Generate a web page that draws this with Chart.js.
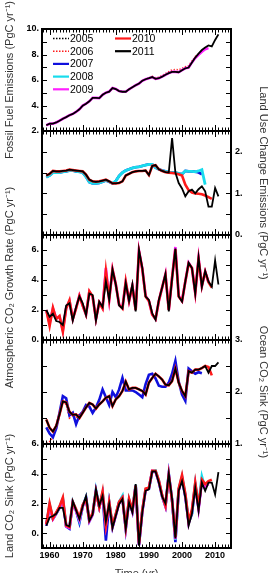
<!DOCTYPE html>
<html><head><meta charset="utf-8">
<script src="https://cdn.jsdelivr.net/npm/chart.js"></script>
<style>
html,body{margin:0;padding:0;background:#fff;}
#wrap{position:relative;width:273px;height:573px;overflow:hidden;background:#fff;}
#wrap canvas{position:absolute;left:0;top:0;}
</style></head><body>
<div id="wrap">
<canvas id="c1" width="273" height="573"></canvas>
<canvas id="c2" width="273" height="573"></canvas>
<canvas id="c3" width="273" height="573"></canvas>
<canvas id="c4" width="273" height="573"></canvas>
<canvas id="c5" width="273" height="573"></canvas>
</div>
<script>
// ---------- DATA ----------
const years = [1959,1960,1961,1962,1963,1964,1965,1966,1967,1968,1969,1970,1971,1972,1973,1974,1975,1976,1977,1978,1979,1980,1981,1982,1983,1984,1985,1986,1987,1988,1989,1990,1991,1992,1993,1994,1995,1996,1997,1998,1999,2000,2001,2002,2003,2004,2005,2006,2007,2008,2009,2010,2011];
const legendYears = ['2005','2006','2007','2008','2009','2010','2011'];
const xTickLabels = [1960,1970,1980,1990,2000,2010];

// Fossil fuel emissions (PgC/yr), each series starts in 1959
const fossil2011 = [2.45, 2.57,2.58,2.67,2.81,2.96,3.09,3.24,3.34,3.50,3.70, 3.99,4.14,4.33,4.60,4.60,4.58,4.84,5.00,5.09,5.37, 5.29,5.13,5.08,5.08,5.27,5.43,5.59,5.72,5.94,6.06, 6.14,6.23,6.09,6.14,6.26,6.41,6.54,6.64,6.64,6.61, 6.77,6.92,6.98,7.38,7.76,8.07,8.35,8.54,8.71,8.63, 9.14,9.58];
const fossil2009 = [2.45, 2.57,2.58,2.67,2.81,2.96,3.09,3.24,3.34,3.50,3.70, 3.99,4.14,4.33,4.60,4.60,4.58,4.84,5.00,5.09,5.37, 5.29,5.13,5.08,5.08,5.27,5.43,5.59,5.72,5.94,6.06, 6.14,6.23,6.09,6.14,6.26,6.41,6.54,6.64,6.64,6.61, 6.77,6.92,6.98,7.38,7.72,7.98,8.22,8.42,8.50];
const fossil2006 = [2.45, 2.57,2.58,2.67,2.81,2.96,3.09,3.24,3.34,3.50,3.70, 3.99,4.14,4.33,4.60,4.60,4.58,4.84,5.00,5.09,5.37, 5.29,5.13,5.08,5.08,5.27,5.43,5.59,5.72,5.94,6.06, 6.14,6.28,6.16,6.22,6.35,6.50,6.65,6.80,6.82,6.80, 6.90,7.04,7.12,7.48,7.84,8.05];

// Land use change emissions
const luc2011 = [1.43, 1.47,1.54,1.53,1.53,1.54,1.55,1.57,1.56,1.55,1.54, 1.53,1.45,1.33,1.29,1.28,1.29,1.31,1.33,1.29,1.24, 1.24,1.25,1.29,1.43,1.47,1.51,1.53,1.54,1.54,1.55, 1.44,1.66,1.68,1.58,1.54,1.51,1.50,2.33,1.50,1.25, 1.12,0.93,1.05,1.09,1.00,1.10,1.17,1.05,0.68,0.68, 1.13,0.93];
const luc2010 = [1.43, 1.47,1.54,1.53,1.53,1.54,1.55,1.57,1.56,1.55,1.54, 1.53,1.45,1.33,1.29,1.28,1.29,1.31,1.33,1.29,1.24, 1.24,1.25,1.29,1.43,1.47,1.51,1.53,1.54,1.54,1.55, 1.44,1.66,1.68,1.58,1.54,1.51,1.50,1.49,1.48,1.46, 1.43,1.21,1.08,1.02,1.00,0.99,0.98,0.95,0.91,0.87];
const luc2008 = [1.39, 1.43,1.50,1.50,1.50,1.52,1.53,1.55,1.55,1.53,1.52, 1.50,1.40,1.27,1.24,1.24,1.25,1.28,1.31,1.28,1.24, 1.30,1.42,1.50,1.55,1.58,1.61,1.63,1.64,1.66,1.68, 1.70,1.70,1.62,1.58,1.55,1.53,1.51,1.50,1.50,1.48, 1.46,1.54,1.53,1.53,1.52,1.54,1.57,1.21];
const luc2007 = [1.39, 1.43,1.50,1.50,1.50,1.52,1.53,1.55,1.55,1.53,1.52, 1.50,1.40,1.27,1.24,1.24,1.25,1.28,1.31,1.28,1.24, 1.30,1.42,1.50,1.55,1.58,1.61,1.63,1.64,1.66,1.68, 1.70,1.70,1.62,1.58,1.55,1.53,1.51,1.50,1.50,1.48, 1.46,1.54,1.53,1.53,1.52,1.50,1.46];

// Atmospheric CO2 growth rate
const atm2011 = [2.00, 1.55,1.75,1.26,1.20,1.00,2.30,2.45,1.30,2.20,2.90, 2.45,1.66,3.10,3.00,1.30,2.55,2.20,3.90,2.70,4.70, 3.70,2.30,2.10,3.80,2.60,3.70,1.90,6.00,4.80,2.90, 2.67,1.78,1.35,2.67,3.50,4.40,1.90,4.10,6.10,2.90, 2.56,3.90,5.15,4.80,3.10,5.50,3.55,4.60,3.90,3.55, 5.30,3.70];
const atm2010 = [2.00, 0.94,2.16,1.40,1.60,0.55,2.10,2.65,1.40,2.10,2.95, 2.30,1.70,3.25,2.90,1.40,2.50,2.10,4.60,2.70,4.70, 3.70,2.35,2.10,3.90,2.60,3.60,2.00,5.90,4.75,2.90, 2.60,1.70,1.40,2.60,3.50,4.35,2.00,4.15,6.05,2.90, 2.60,3.90,5.10,4.80,3.15,5.40,3.60,4.55,3.85,3.50];
const atm2009 = [2.00, 1.10,2.10,1.45,1.55,0.65,2.15,2.60,1.40,2.15,2.95, 2.30,1.70,3.20,2.90,1.40,2.50,2.15,4.80,2.70,4.70, 3.70,2.35,2.15,3.85,2.60,3.60,2.00,5.95,4.75,2.95, 2.60,1.70,1.40,2.60,3.50,4.40,2.00,4.15,6.20,2.95, 2.60,3.90,5.15,4.80,3.15,5.45,3.60,4.55,3.85];

// Ocean CO2 sink
const ocean2011 = [1.47, 1.31,1.24,1.35,1.57,1.82,1.80,1.62,1.56,1.57,1.50, 1.60,1.70,1.79,1.76,1.68,1.76,1.82,1.89,1.92,1.73, 1.86,1.92,2.02,2.20,2.05,2.08,2.08,2.05,2.02,1.95, 2.18,2.27,2.35,2.30,2.24,2.14,2.13,2.21,2.45,2.18, 2.02,1.92,2.40,2.37,2.43,2.43,2.46,2.50,2.37,2.50, 2.50,2.57];
const ocean2010 = [1.47, 1.31,1.24,1.35,1.57,1.82,1.80,1.62,1.56,1.57,1.50, 1.60,1.70,1.79,1.76,1.68,1.76,1.82,1.89,1.92,1.73, 1.86,1.92,2.02,2.20,2.05,2.08,2.08,2.05,2.02,1.95, 2.18,2.27,2.35,2.30,2.24,2.14,2.13,2.21,2.45,2.18, 2.02,1.92,2.40,2.37,2.43,2.43,2.46,2.50,2.48,2.32];
const ocean2007 = [1.32, 1.20,1.13,1.30,1.60,1.92,1.88,1.55,1.60,1.38,1.55, 1.62,1.75,1.72,1.60,1.70,1.85,2.05,1.90,1.75,2.00, 1.90,2.05,2.27,2.03,2.03,2.03,2.00,1.95,1.90,2.15, 2.33,2.35,2.26,2.12,2.10,2.10,2.18,2.35,2.60,2.20, 1.95,1.83,2.45,2.40,2.35,2.38,2.36];
const ocean2006 = [1.02, 1.05,1.12,1.38,1.60,1.80,1.76,1.50,1.55,1.50,1.58, 1.60,1.70,1.79,1.76,1.68,1.76,1.82,1.89,1.92,1.73, 1.86,1.92,2.02,2.20,2.05,2.08,2.08,2.05,2.02,1.95, 2.18,2.27,2.35,2.30,2.24,2.14,2.13,2.21,2.45,2.18, 2.02,1.92,2.40,2.37,2.43,2.43];

// Land CO2 sink
const land2011 = [0.50, 1.05,1.15,1.30,1.70,1.70,0.55,0.45,2.15,1.55,0.95, 1.80,2.50,0.83,1.25,2.95,1.85,2.50,0.80,1.95,0.35, 1.17,1.95,2.29,0.31,2.06,1.39,3.30,-0.85,1.40,2.85, 2.95,4.15,4.15,3.40,2.45,2.00,4.00,2.30,-0.35,2.85, 3.50,2.40,0.50,1.30,3.05,1.50,3.40,2.85,3.40,3.40, 2.60,4.10];
const land2010 = [0.60, 2.00,1.00,1.40,1.80,2.40,0.50,0.40,2.10,1.60,1.05, 1.90,2.30,0.90,1.35,2.80,1.75,2.80,0.55,2.10,0.50, 1.30,2.10,2.40,0.40,2.30,1.55,3.20,-0.70,1.55,3.00, 3.05,4.20,4.20,3.55,2.55,1.85,3.90,2.20,-0.25,3.00, 3.90,2.65,0.80,1.60,3.40,1.80,3.60,3.30,3.50,3.60];
const land2009 = [0.55, 1.80,0.95,1.35,1.75,2.20,0.45,0.35,2.05,1.50,0.90, 1.80,2.35,0.80,1.25,2.85,1.75,2.65,0.50,2.00,0.40, 1.20,2.05,2.35,0.30,2.20,1.45,3.20,-0.80,1.45,2.90, 3.00,4.20,4.15,3.45,2.50,1.80,3.95,2.20,-0.40,2.90, 3.75,2.50,0.65,1.45,3.25,1.60,3.45,3.10,3.30];
const land2008 = [0.55, 1.90,1.00,1.35,1.75,2.30,0.50,0.40,2.10,1.55,0.85, 1.85,2.40,0.85,1.30,2.90,1.80,2.70,0.60,2.05,0.45, 1.25,2.10,2.50,0.35,2.25,1.50,3.25,-0.75,1.50,2.95, 3.00,4.15,4.20,3.50,2.50,1.85,3.95,2.25,-0.45,2.95, 3.80,2.55,0.85,1.35,3.30,1.90,3.80,3.00];
const land2007 = [0.50, 1.85,0.95,1.30,1.70,2.20,0.45,0.30,2.05,1.50,0.70, 1.80,2.40,0.80,1.25,2.85,1.75,2.60,-0.50,2.00,0.40, 1.20,2.05,2.35,0.30,2.20,1.45,3.20,-0.80,1.45,2.90, 3.00,4.15,4.15,3.45,2.45,1.80,3.95,2.20,-0.60,2.90, 3.70,2.45,0.70,1.30,3.20,1.70,3.50];

// ---------- STYLE ----------
const FONT = '"Liberation Sans", Arial, Helvetica, sans-serif';
Chart.defaults.font.family = FONT;
const styles = {
  '2005': {color:'#000000', dash:[1.2,1.8], width:1.4},
  '2006': {color:'#ff1a1a', dash:[1.2,1.8], width:1.6},
  '2007': {color:'#1010dd', width:2.6},
  '2008': {color:'#18dcec', width:2.8},
  '2009': {color:'#ff20ff', width:2.6},
  '2010': {color:'#ff1a1a', width:2.6},
  '2011': {color:'#000000', width:1.8}
};

const panels = [
  {canvas:'c1', top:29, bottom:131, min:2, max:10, step:2, minor:1, side:'left',
   title:'Fossil Fuel Emissions (PgC yr\u207B\u00B9)', legend:true,
   series:[['2011',fossil2011],['2009',fossil2009],['2006',fossil2006]]},
  {canvas:'c2', top:131, bottom:235, min:0, max:2.5, step:1, minor:0.5, side:'right',
   title:'Land Use Change Emissions (PgC yr\u207B\u00B9)',
   series:[['2011',luc2011],['2010',luc2010],['2008',luc2008],['2007',luc2007]]},
  {canvas:'c3', top:235, bottom:340, min:0, max:7, step:2, minor:1, side:'left',
   title:'Atmospheric CO\u2082 Growth Rate (PgC yr\u207B\u00B9)',
   series:[['2011',atm2011],['2010',atm2010],['2009',atm2009]]},
  {canvas:'c4', top:340, bottom:444, min:1, max:3, step:1, minor:0.5, side:'right',
   title:'Ocean CO\u2082 Sink (PgC yr\u207B\u00B9)',
   series:[['2011',ocean2011],['2010',ocean2010],['2007',ocean2007],['2006',ocean2006]]},
  {canvas:'c5', top:444, bottom:548, min:-1, max:6, step:2, minor:1, side:'left',
   title:'Land CO\u2082 Sink (PgC yr\u207B\u00B9)', xAxis:true, xTitle:'Time (yr)',
   series:[['2011',land2011],['2010',land2010],['2009',land2009],['2008',land2008],['2007',land2007]]}
];

const XMIN = 1957.7, XMAX = 2014.8;

const framePlugin = {
  id: 'frame',
  afterDatasetsDraw(chart, args, opts) {
    const ctx = chart.ctx, a = chart.chartArea;
    const xs = chart.scales.x, ys = chart.scales.y;
    ctx.save();
    ctx.strokeStyle = '#000';
    ctx.lineWidth = 1;
    ctx.beginPath();
    for (let yr = Math.ceil(xs.min); yr <= xs.max; yr++) {
      const px = Math.round(xs.getPixelForValue(yr)) + 0.5;
      const len = yr % 10 === 0 ? 6 : 3.5;
      ctx.moveTo(px, a.top); ctx.lineTo(px, a.top + len);
      ctx.moveTo(px, a.bottom); ctx.lineTo(px, a.bottom - len);
    }
    const n = Math.round((ys.max - ys.min) / opts.minor);
    for (let i = 1; i < n; i++) {
      const v = ys.min + i * opts.minor;
      const py = Math.round(ys.getPixelForValue(v)) + 0.5;
      ctx.moveTo(a.left, py); ctx.lineTo(a.left + 5, py);
      ctx.moveTo(a.right, py); ctx.lineTo(a.right - 5, py);
    }
    ctx.stroke();
    ctx.lineWidth = 2;
    ctx.strokeRect(a.left, a.top, a.right - a.left, a.bottom - a.top);
    if (opts.legend) {
      ctx.font = '10.5px ' + FONT;
      ctx.textBaseline = 'middle';
      ctx.textAlign = 'left';
      ctx.fillStyle = '#000';
      legendYears.forEach((yr, i) => {
        const col = i < 5 ? 0 : 1;
        const row = col === 0 ? i : i - 5;
        const x0 = a.left + (col === 0 ? 11 : 73);
        const y = a.top + 9.5 + row * 12.7;
        const st = styles[yr];
        ctx.strokeStyle = st.color;
        ctx.lineWidth = st.dash ? 1.6 : 2.2;
        ctx.setLineDash(st.dash ? [1.5, 1.5] : []);
        ctx.beginPath(); ctx.moveTo(x0, y); ctx.lineTo(x0 + 16, y); ctx.stroke();
        ctx.setLineDash([]);
        ctx.fillText(yr, x0 + 17, y + 0.5);
      });
    }
    if (opts.xTitle) {
      ctx.font = '11px ' + FONT;
      ctx.fillStyle = '#333';
      ctx.textAlign = 'center';
      ctx.textBaseline = 'alphabetic';
      ctx.fillText(opts.xTitle, (a.left + a.right) / 2, 577);
    }
    ctx.restore();
  }
};

panels.forEach(p => {
  const datasets = p.series.map(([yr, vals], i) => {
    const st = styles[yr];
    return {
      label: yr,
      data: vals.map((v, k) => ({x: years[k], y: v})),
      borderColor: st.color,
      borderWidth: st.width,
      borderDash: st.dash || [],
      pointRadius: 0,
      tension: 0,
      fill: false,
      order: i
    };
  });
  const isLeft = p.side === 'left';
  new Chart(document.getElementById(p.canvas), {
    type: 'line',
    data: {datasets},
    options: {
      responsive: false,
      animation: false,
      devicePixelRatio: 1,
      layout: {padding: {top: p.top, bottom: p.xAxis ? 0 : 573 - p.bottom, left: isLeft ? 0 : 42, right: isLeft ? 42 : 0}},
      plugins: {
        legend: {display: false},
        tooltip: {enabled: false},
        frame: {minor: p.minor, legend: !!p.legend, xTitle: p.xTitle || null}
      },
      scales: {
        x: {
          type: 'linear', min: XMIN, max: XMAX,
          grid: {display: false, drawTicks: false},
          border: {display: false},
          ticks: {
            display: !!p.xAxis, stepSize: 10, includeBounds: false, autoSkip: false, maxRotation: 0,
            padding: 2, color: '#000', font: {size: 9, weight: 'bold'},
            callback: v => (xTickLabels.includes(v) ? String(v) : null)
          },
          afterFit: s => { s.height = p.xAxis ? 25 : 0; }
        },
        y: {
          type: 'linear', position: p.side, min: p.min, max: p.max,
          grid: {display: false, drawTicks: false},
          border: {display: false},
          ticks: {
            stepSize: p.step, includeBounds: false, autoSkip: false, padding: isLeft ? 3 : 4,
            color: '#000', font: {size: 9, weight: 'bold'},
            callback: v => v + '.'
          },
          title: {display: true, text: p.title, color: '#333', font: {size: 11}, padding: {top: 3, bottom: 0}},
          afterFit: s => { s.width = 42; }
        }
      }
    },
    plugins: [framePlugin]
  });
});
</script>
</body></html>
